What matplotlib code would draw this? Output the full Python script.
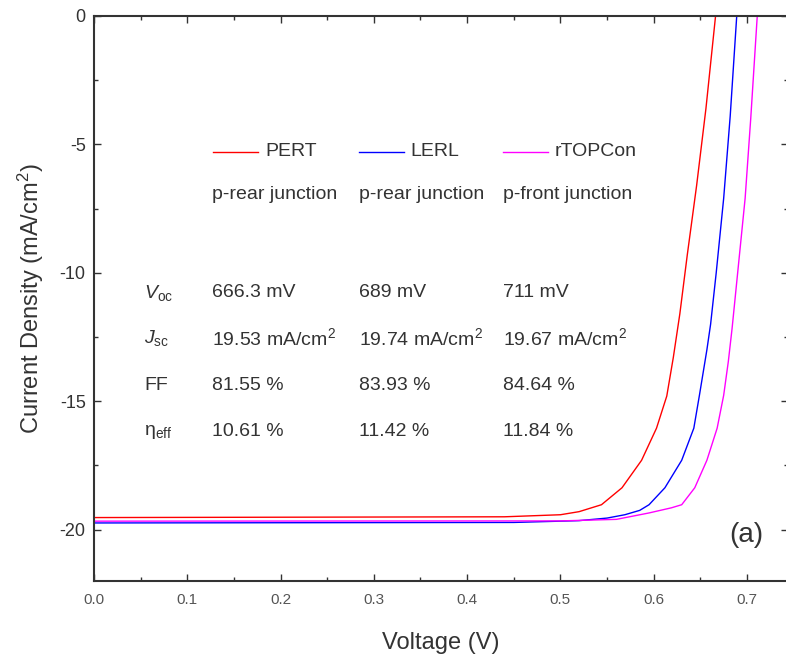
import numpy as np
import matplotlib.pyplot as plt
from matplotlib.ticker import MultipleLocator

plt.rcParams['font.family'] = ['Liberation Sans', 'DejaVu Sans']
plt.rcParams['mathtext.fontset'] = 'custom'
plt.rcParams['mathtext.it'] = 'Liberation Sans:italic'
plt.rcParams['mathtext.rm'] = 'Liberation Sans'

# J-V curves (V in volts, J in mA/cm2)
v_pert = [0.0, 0.44, 0.50, 0.52, 0.544, 0.566, 0.587, 0.603, 0.614, 0.621,
          0.628, 0.636, 0.646, 0.656, 0.6663]
j_pert = [-19.53, -19.50, -19.42, -19.30, -19.03, -18.37, -17.30, -16.05,
          -14.8, -13.3, -11.6, -9.3, -6.6, -3.6, 0.0]

v_lerl = [0.0, 0.45, 0.52, 0.55, 0.569, 0.585, 0.595, 0.612, 0.630, 0.643,
          0.649, 0.657, 0.661, 0.667, 0.675, 0.682, 0.689]
j_lerl = [-19.74, -19.72, -19.65, -19.55, -19.42, -19.25, -19.03, -18.37,
          -17.3, -16.05, -14.77, -13.0, -12.0, -10.0, -7.1, -3.9, 0.0]

v_rtop = [0.0, 0.50, 0.56, 0.595, 0.619, 0.630, 0.644, 0.657, 0.668, 0.675,
          0.680, 0.684, 0.690, 0.698, 0.704, 0.711]
j_rtop = [-19.67, -19.66, -19.60, -19.35, -19.15, -19.03, -18.37, -17.3,
          -16.05, -14.77, -13.45, -12.17, -10.0, -7.1, -4.0, 0.0]

names = ['PERT', 'LERL', 'rTOPCon']
junctions = ['p-rear junction', 'p-rear junction', 'p-front junction']
colors = ['#ff0000', '#0000ff', '#ff00ff']
row_labels = [r'$V_{\rm oc}$', r'$J_{\rm sc}$', 'FF', r'η$_{\rm eff}$']
voc = ['666.3 mV', '689 mV', '711 mV']
jsc = ['19.53 mA/cm$^2$', '19.74 mA/cm$^2$', '19.67 mA/cm$^2$']
ff = ['81.55 %', '83.93 %', '84.64 %']
eff = ['10.61 %', '11.42 %', '11.84 %']

fig = plt.figure(figsize=(7.86, 6.56), dpi=100)
ax = fig.add_axes([94/786, 75/656, 1 - 94/786 + 0.002, (581-16)/656])

curves = [(v_pert, j_pert), (v_lerl, j_lerl), (v_rtop, j_rtop)]
for (v, j), c, n in zip(curves, colors, names):
    ax.plot(v, j, color=c, lw=1.0, label=n)

ax.set_xlim(0, 0.7435)
ax.set_ylim(-22, 0)
ax.xaxis.set_major_locator(MultipleLocator(0.1))
ax.xaxis.set_minor_locator(MultipleLocator(0.05))
ax.yaxis.set_major_locator(MultipleLocator(5))
ax.yaxis.set_minor_locator(MultipleLocator(2.5))
ax.tick_params(which='both', direction='in', top=True, right=True, colors='#333333')
ax.tick_params(which='major', length=5, width=1)
ax.tick_params(which='minor', length=3, width=1)
ax.tick_params(axis='x', labelsize=11, labelcolor='#555555', pad=9)
ax.tick_params(axis='y', labelsize=13, labelcolor='#333333', pad=6)
ax.xaxis.set_major_formatter(plt.FuncFormatter(lambda x, p: '%.1f' % x))
ax.yaxis.set_major_formatter(plt.FuncFormatter(lambda y, p: '%d' % y))
for s in ax.spines.values():
    s.set_linewidth(1.5)
    s.set_color('#333333')

ax.set_xlabel('Voltage (V)', fontsize=17, color='#333333', labelpad=18)
ax.set_ylabel('Current Density (mA/cm$^2$)', fontsize=17, color='#333333', labelpad=10)

# legend row and table, placed in axes pixel fractions
def fx(px):
    return (px - 94) / (786 - 94)

def fy(py):
    return (581 - py) / (581 - 16)

tc = '#333333'
line_x = [213, 358, 502]
for lx, c, n in zip(line_x, colors, names):
    ax.plot([fx(lx), fx(lx + 45)], [fy(152), fy(152)], color=c, lw=1.0,
            transform=ax.transAxes)
    ax.text(fx(lx + 52), fy(152), n, transform=ax.transAxes, fontsize=14,
            color=tc, va='center', ha='left')

col_x = [212, 358, 502]
for cx, jn in zip(col_x, junctions):
    ax.text(fx(cx), fy(195), jn, transform=ax.transAxes, fontsize=14,
            color=tc, va='center', ha='left')

row_y = [293, 338, 385, 432]
rows = [voc, jsc, ff, eff]
for ry, lab, vals in zip(row_y, row_labels, rows):
    ax.text(fx(144), fy(ry), lab, transform=ax.transAxes, fontsize=14,
            color=tc, va='center', ha='left')
    for cx, val in zip(col_x, vals):
        ax.text(fx(cx), fy(ry), val, transform=ax.transAxes, fontsize=14,
                color=tc, va='center', ha='left')

ax.text(fx(745), fy(535), '(a)', transform=ax.transAxes, fontsize=20,
        color=tc, va='center', ha='center')

fig.savefig('out.png', dpi=100)
